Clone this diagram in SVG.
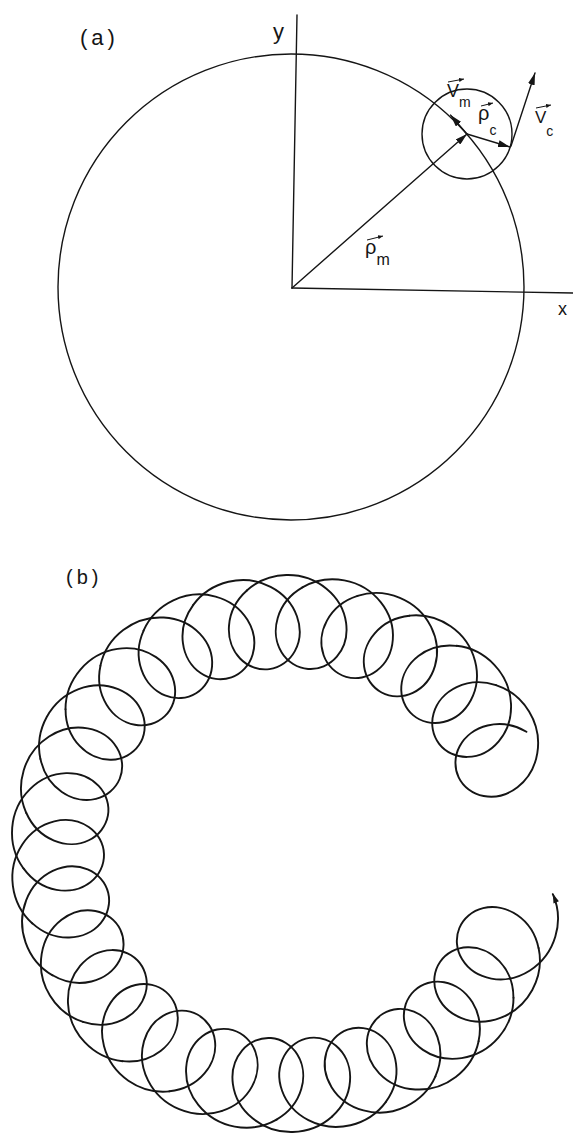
<svg xmlns="http://www.w3.org/2000/svg" width="573" height="1135" viewBox="0 0 573 1135">
<style>
.ln{fill:none;stroke:#151515;stroke-width:1.4;stroke-linecap:round}
.lbl{font-family:"Liberation Sans",Arial,sans-serif;fill:#151515}
.loop{fill:none;stroke:#151515;stroke-width:1.9;stroke-linecap:round;stroke-linejoin:round}
.ov{fill:none;stroke:#151515;stroke-width:1;marker-end:url(#sm)}
</style>
<defs>
<marker id="ah" markerUnits="userSpaceOnUse" markerWidth="12" markerHeight="7" refX="12" refY="3.5" orient="auto"><path d="M0,0 L12,3.5 L0,7 z" fill="#151515"/></marker>
<marker id="sm" markerUnits="userSpaceOnUse" markerWidth="5" markerHeight="4" refX="5" refY="2" orient="auto"><path d="M0,0 L5,2 L0,4 z" fill="#151515"/></marker>
<path id="unit" d="M264.3,-33.4 C255.3,-44.2 242.5,-51.1 229.9,-52.5 C217.3,-54 204.9,-50.1 196.6,-42.6 C188.2,-35.2 184,-24.2 185,-13.7 C186,-3.2 192.4,6.7 202.1,12.4 C211.8,18.1 224.7,19.6 236.9,15.7 C249.1,11.8 260.3,2.7 267.2,-9.6 C274.1,-21.9 276.6,-37.2 273.7,-51.5 C270.8,-65.9 262.7,-79 251.6,-87.7"/>
</defs>
<rect width="573" height="1135" fill="#ffffff"/>

<g id="panel-a">
  <text class="lbl" x="80" y="45" font-size="22" letter-spacing="4">(a)</text>
  <g id="axes">
    <line class="ln" x1="297" y1="15" x2="292" y2="288"/>
    <line class="ln" x1="292" y1="288" x2="573" y2="293"/>
    <text class="lbl" x="273" y="39" font-size="22">y</text>
    <text class="lbl" x="558" y="315" font-size="18">x</text>
  </g>
  <circle id="orbit" class="ln" cx="291" cy="287" r="233" stroke-width="1.3"/>
  <circle id="cyclotron" class="ln" cx="467" cy="134" r="45" stroke-width="1.3"/>
  <g id="vectors">
    <line class="ln" x1="292" y1="288" x2="467" y2="134" marker-end="url(#ah)"/>
    <line class="ln" x1="467" y1="134" x2="450.6" y2="115.1" marker-end="url(#ah)"/>
    <line class="ln" x1="467" y1="134" x2="510" y2="147" marker-end="url(#ah)" stroke-width="1.6"/>
    <line class="ln" x1="511" y1="146" x2="535" y2="73" marker-end="url(#ah)" stroke-width="1.6"/>
  </g>
  <g id="labels">
    <text class="lbl" x="447" y="97" font-size="18">V<tspan font-size="14" dy="10">m</tspan></text>
    <path class="ov" d="M448,82 L464,79"/>
    <text class="lbl" x="478" y="120" font-size="20">ρ<tspan font-size="14" dy="15">c</tspan></text>
    <path class="ov" d="M481,106 L493,103"/>
    <text class="lbl" x="535" y="123" font-size="17">V<tspan font-size="14" dy="13">c</tspan></text>
    <path class="ov" d="M536,108 L551,105"/>
    <text class="lbl" x="365" y="254" font-size="20">ρ<tspan font-size="16" dy="11">m</tspan></text>
    <path class="ov" d="M367,240 L383,236"/>
  </g>
</g>

<g id="panel-b">
  <text class="lbl" x="66" y="584" font-size="20" letter-spacing="4">(b)</text>
  <g id="trajectory" transform="translate(289.5,853.5)" class="loop">
    <use href="#unit" transform="rotate(-20)"/>
    <use href="#unit" transform="rotate(-32)"/>
    <use href="#unit" transform="rotate(-44)"/>
    <use href="#unit" transform="rotate(-56)"/>
    <use href="#unit" transform="rotate(-68)"/>
    <use href="#unit" transform="rotate(-80)"/>
    <use href="#unit" transform="rotate(-92)"/>
    <use href="#unit" transform="rotate(-104)"/>
    <use href="#unit" transform="rotate(-116)"/>
    <use href="#unit" transform="rotate(-128)"/>
    <use href="#unit" transform="rotate(-140)"/>
    <use href="#unit" transform="rotate(-152)"/>
    <use href="#unit" transform="rotate(-164)"/>
    <use href="#unit" transform="rotate(-176)"/>
    <use href="#unit" transform="rotate(-188)"/>
    <use href="#unit" transform="rotate(-200)"/>
    <use href="#unit" transform="rotate(-212)"/>
    <use href="#unit" transform="rotate(-224)"/>
    <use href="#unit" transform="rotate(-236)"/>
    <use href="#unit" transform="rotate(-248)"/>
    <use href="#unit" transform="rotate(-260)"/>
    <use href="#unit" transform="rotate(-272)"/>
    <use href="#unit" transform="rotate(-284)"/>
    <use href="#unit" transform="rotate(-296)"/>
    <use href="#unit" transform="rotate(-308)"/>
    <use href="#unit" transform="rotate(-320)"/>
    <use href="#unit" transform="rotate(-332)"/>
  </g>
  <path id="end-arrow" d="M552.8,893.5 L558.9,901.2 L553.5,903.6 z" fill="#151515"/>
</g>
</svg>
